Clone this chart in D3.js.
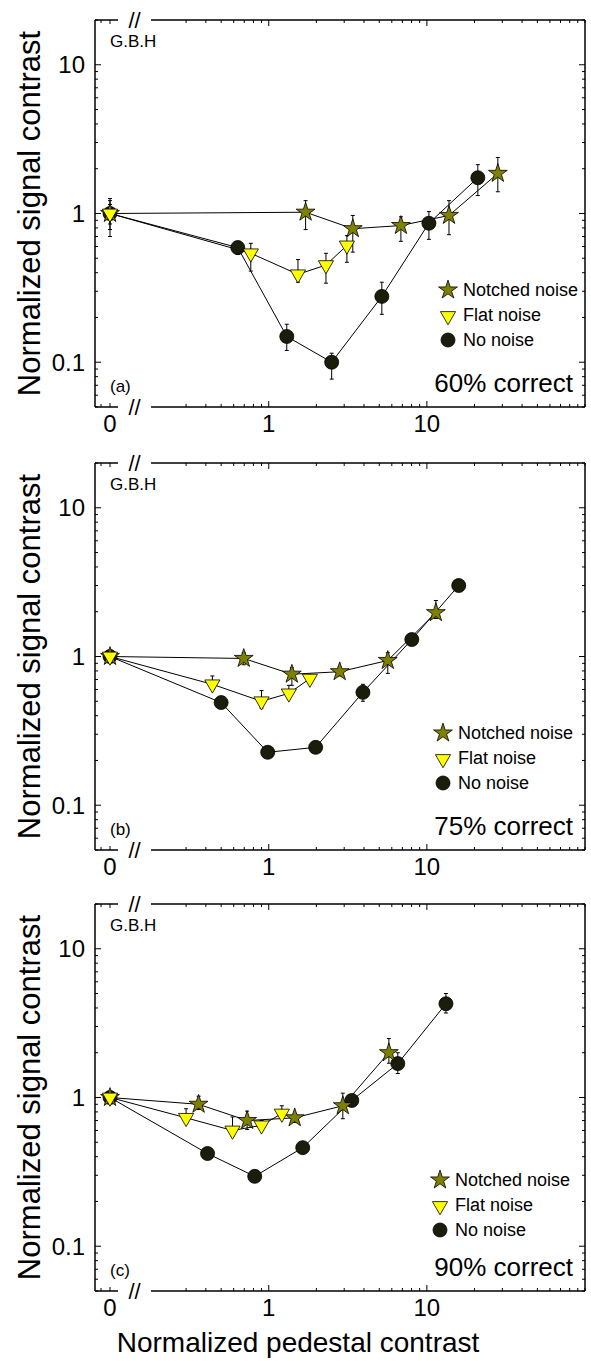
<!DOCTYPE html>
<html><head><meta charset="utf-8">
<script src="https://cdn.jsdelivr.net/npm/d3@7"></script>
<style>body{margin:0;background:#fff}</style>
</head><body>
<svg id="c" width="591" height="1361"></svg>
<script>
// ---------- data ----------
const panelLetters = ["(a)", "(b)", "(c)"];
const pctLabels = ["60% correct", "75% correct", "90% correct"];
const observer = "G.B.H";
const seriesNames = ["Notched noise", "Flat noise", "No noise"];
const xTickLabels = ["0", "1", "10"];
const yTickValues = [0.1, 1, 10];

// Panel (a)
const notchedA_x = [0, 1.71, 3.4, 6.85, 13.8, 28.1];
const notchedA_y = [1.0, 1.02, 0.79, 0.83, 0.97, 1.86];
const notchedA_lo = [0.78, 0.78, 0.55, 0.65, 0.72, 1.40];
const notchedA_hi = [1.22, 1.22, 0.97, 0.95, 1.22, 2.38];
const flatA_x = [0, 0.77, 1.53, 2.3, 3.12];
const flatA_y = [1.0, 0.54, 0.39, 0.45, 0.61];
const flatA_lo = [0.70, 0.41, 0.345, 0.34, 0.47];
const flatA_hi = [1.26, 0.63, 0.49, 0.54, 0.71];
const noneA_x = [0, 0.637, 1.30, 2.5, 5.19, 10.3, 21];
const noneA_y = [1.0, 0.59, 0.149, 0.10, 0.277, 0.86, 1.74];
const noneA_lo = [0.85, 0.53, 0.12, 0.077, 0.21, 0.67, 1.32];
const noneA_hi = [1.15, 0.65, 0.18, 0.115, 0.345, 1.03, 2.13];

// Panel (b)
const notchedB_x = [0, 0.695, 1.40, 2.81, 5.66, 11.4];
const notchedB_y = [1.0, 0.97, 0.76, 0.79, 0.94, 1.97];
const notchedB_lo = [0.95, 0.88, 0.64, 0.74, 0.77, 1.80];
const notchedB_hi = [1.05, 1.06, 0.84, 0.85, 1.06, 2.38];
const flatB_x = [0, 0.44, 0.90, 1.34, 1.82];
const flatB_y = [1.0, 0.65, 0.50, 0.565, 0.71];
const flatB_lo = [0.95, 0.60, 0.45, 0.52, 0.68];
const flatB_hi = [1.04, 0.74, 0.59, 0.64, 0.75];
const noneB_x = [0, 0.50, 0.985, 1.98, 3.94, 8.03, 15.9];
const noneB_y = [1.0, 0.49, 0.227, 0.245, 0.574, 1.30, 3.0];
const noneB_lo = [0.96, 0.47, 0.21, 0.23, 0.50, 1.22, 2.8];
const noneB_hi = [1.04, 0.51, 0.245, 0.26, 0.65, 1.40, 3.3];

// Panel (c)
const notchedC_x = [0, 0.36, 0.73, 1.46, 2.94, 5.75];
const notchedC_y = [1.0, 0.90, 0.70, 0.73, 0.88, 2.0];
const notchedC_lo = [0.95, 0.83, 0.61, 0.68, 0.72, 1.7];
const notchedC_hi = [1.08, 1.02, 0.81, 0.78, 1.07, 2.49];
const flatC_x = [0, 0.30, 0.59, 0.90, 1.21];
const flatC_y = [1.0, 0.73, 0.60, 0.65, 0.78];
const flatC_lo = [0.95, 0.68, 0.55, 0.60, 0.73];
const flatC_hi = [1.05, 0.84, 0.74, 0.70, 0.88];
const noneC_x = [0, 0.41, 0.815, 1.64, 3.35, 6.55, 13.2];
const noneC_y = [1.0, 0.42, 0.295, 0.46, 0.955, 1.69, 4.27];
const noneC_lo = [0.96, 0.40, 0.28, 0.43, 0.90, 1.45, 3.7];
const noneC_hi = [1.04, 0.44, 0.31, 0.50, 1.02, 2.0, 5.0];

const panelData = [
  {notched:[notchedA_x,notchedA_y,notchedA_lo,notchedA_hi], flat:[flatA_x,flatA_y,flatA_lo,flatA_hi], none:[noneA_x,noneA_y,noneA_lo,noneA_hi]},
  {notched:[notchedB_x,notchedB_y,notchedB_lo,notchedB_hi], flat:[flatB_x,flatB_y,flatB_lo,flatB_hi], none:[noneB_x,noneB_y,noneB_lo,noneB_hi]},
  {notched:[notchedC_x,notchedC_y,notchedC_lo,notchedC_hi], flat:[flatC_x,flatC_y,flatC_lo,flatC_hi], none:[noneC_x,noneC_y,noneC_lo,noneC_hi]}
];

// ---------- layout ----------
const FONT = "'Liberation Sans', Arial, Helvetica, sans-serif";
const colors = {notched: "#808000", flat: "#ffff00", none: "#1c1c0a"};
const panelTops = [20, 463, 904];
const panelH = 387;
const L = 95, R = 585, breakL = 118, breakR = 151;
const legendPos = [[448, 290], [443, 733], [440, 1180]];

const svg = d3.select("#c");

// x scales (shared)
const xLog = d3.scaleLog().domain([0.18, 100]).range([breakR, R]);
const xZero = d3.scaleLinear().domain([-1, 0]).range([101, 110]);
const xPos = v => v === 0 ? xZero(0) : xLog(v);

const xMajor = [1, 10];
const xMinor = [];
[0.1, 1, 10].forEach(d => { for (let k = 2; k <= 9; k++) { const v = d * k; if (v >= 0.3 && v < 100) xMinor.push(v); } });
xMinor.push(100);
const yMinor = [];
[0.01, 0.1, 1, 10].forEach(d => { for (let k = 2; k <= 9; k++) { const v = d * k; if (v >= 0.05 && v <= 20) yMinor.push(v); } });

function starPath(size){ return d3.symbol(d3.symbolStar, size)(); }
function triPath(size){ return d3.symbol(d3.symbolTriangle, size)(); }

function drawMarker(g, type, x, y) {
  if (type === "notched") {
    g.append("path").attr("d", starPath(110)).attr("transform", `translate(${x},${y})`)
      .attr("fill", colors.notched).attr("stroke", "#000").attr("stroke-width", 0.8);
  } else if (type === "flat") {
    g.append("path").attr("d", triPath(100)).attr("transform", `translate(${x},${y}) rotate(180)`)
      .attr("fill", colors.flat).attr("stroke", "#000").attr("stroke-width", 0.8);
  } else {
    g.append("circle").attr("cx", x).attr("cy", y).attr("r", 7)
      .attr("fill", colors.none).attr("stroke", "#000").attr("stroke-width", 0.8);
  }
}

panelData.forEach((pd, i) => {
  const top = panelTops[i], bot = top + panelH;
  const y = d3.scaleLog().domain([0.05, 20]).range([bot, top]);
  const g = svg.append("g");

  // frame
  const ax = g.append("g").attr("stroke", "#000").attr("stroke-width", 1.5).attr("fill", "none");
  ax.append("line").attr("x1", L).attr("x2", L).attr("y1", top).attr("y2", bot);
  ax.append("line").attr("x1", R).attr("x2", R).attr("y1", top).attr("y2", bot);
  [top, bot].forEach(yy => {
    ax.append("line").attr("x1", L).attr("x2", breakL).attr("y1", yy).attr("y2", yy);
    ax.append("line").attr("x1", breakR).attr("x2", R).attr("y1", yy).attr("y2", yy);
  });
  // ticks
  const tk = g.append("g").attr("stroke", "#000").attr("stroke-width", 1);
  [[bot, -1], [top, 1]].forEach(([yy, dir]) => {
    xMajor.forEach(v => tk.append("line").attr("x1", xLog(v)).attr("x2", xLog(v)).attr("y1", yy).attr("y2", yy + dir * 6));
    xMinor.forEach(v => tk.append("line").attr("x1", xLog(v)).attr("x2", xLog(v)).attr("y1", yy).attr("y2", yy + dir * 3));
    [-1, 0].forEach(v => tk.append("line").attr("x1", xZero(v)).attr("x2", xZero(v)).attr("y1", yy).attr("y2", yy + dir * (v === 0 ? 4 : 3)));
  });
  [[L, 1], [R, -1]].forEach(([xx, dir]) => {
    yTickValues.forEach(v => tk.append("line").attr("x1", xx).attr("x2", xx + dir * 6).attr("y1", y(v)).attr("y2", y(v)));
    yMinor.forEach(v => tk.append("line").attr("x1", xx).attr("x2", xx + dir * 3).attr("y1", y(v)).attr("y2", y(v)));
  });
  // break marks
  [top, bot].forEach(yy => {
    g.append("text").attr("x", (breakL + breakR) / 2).attr("y", yy + 8).attr("text-anchor", "middle")
      .attr("font-family", FONT).attr("font-size", 22).text("//");
  });

  // y tick labels
  const ylabels = ["0.1", "1", "10"];
  yTickValues.forEach((v, k) => {
    g.append("text").attr("x", 85).attr("y", y(v)).attr("dy", "0.36em").attr("text-anchor", "end")
      .attr("font-family", FONT).attr("font-size", 24).text(ylabels[k]);
  });
  // x tick labels
  [0, 1, 10].forEach((v, k) => {
    g.append("text").attr("x", xPos(v)).attr("y", bot + 25).attr("text-anchor", "middle")
      .attr("font-family", FONT).attr("font-size", 24).text(xTickLabels[k]);
  });

  // y axis label
  g.append("text").attr("transform", `translate(40,${(top + bot) / 2}) rotate(-90)`).attr("text-anchor", "middle")
    .attr("font-family", FONT).attr("font-size", 31).text("Normalized signal contrast");

  // annotations
  g.append("text").attr("x", 110).attr("y", top + 27).attr("font-family", FONT).attr("font-size", 17).text(observer);
  g.append("text").attr("x", 110).attr("y", bot - 15).attr("font-family", FONT).attr("font-size", 17).text(panelLetters[i]);
  g.append("text").attr("x", 573).attr("y", bot - 15).attr("text-anchor", "end").attr("font-family", FONT).attr("font-size", 26).text(pctLabels[i]);

  // lines
  const line = d3.line().x(d => xPos(d[0])).y(d => y(d[1]));
  ["none", "flat", "notched"].forEach(key => {
    const [xs, ys] = pd[key];
    g.append("path").attr("d", line(xs.map((v, k) => [v, ys[k]]))).attr("fill", "none").attr("stroke", "#000").attr("stroke-width", 1);
  });
  // error bars
  ["none", "flat", "notched"].forEach(key => {
    const [xs, ys, lo, hi] = pd[key];
    xs.forEach((v, k) => {
      const xx = xPos(v);
      g.append("line").attr("x1", xx).attr("x2", xx).attr("y1", y(lo[k])).attr("y2", y(hi[k])).attr("stroke", "#000").attr("stroke-width", 1);
      [lo[k], hi[k]].forEach(e => g.append("line").attr("x1", xx - 2).attr("x2", xx + 2).attr("y1", y(e)).attr("y2", y(e)).attr("stroke", "#000").attr("stroke-width", 1));
    });
  });
  // markers
  ["none", "notched", "flat"].forEach(key => {
    const [xs, ys] = pd[key];
    xs.forEach((v, k) => drawMarker(g, key, xPos(v), y(ys[k])));
  });

  // legend
  const [lx, ly] = legendPos[i];
  ["notched", "flat", "none"].forEach((key, k) => {
    const yy = ly + k * 25;
    drawMarker(g, key, lx, yy + (key === "flat" ? 1 : 0));
    g.append("text").attr("x", lx + 15).attr("y", yy).attr("dy", "0.36em").attr("font-family", FONT).attr("font-size", 18).text(seriesNames[k]);
  });
});

// x axis title
svg.append("text").attr("x", 298).attr("y", 1352).attr("text-anchor", "middle").attr("font-family", FONT).attr("font-size", 28).text("Normalized pedestal contrast");
</script>
</body></html>
